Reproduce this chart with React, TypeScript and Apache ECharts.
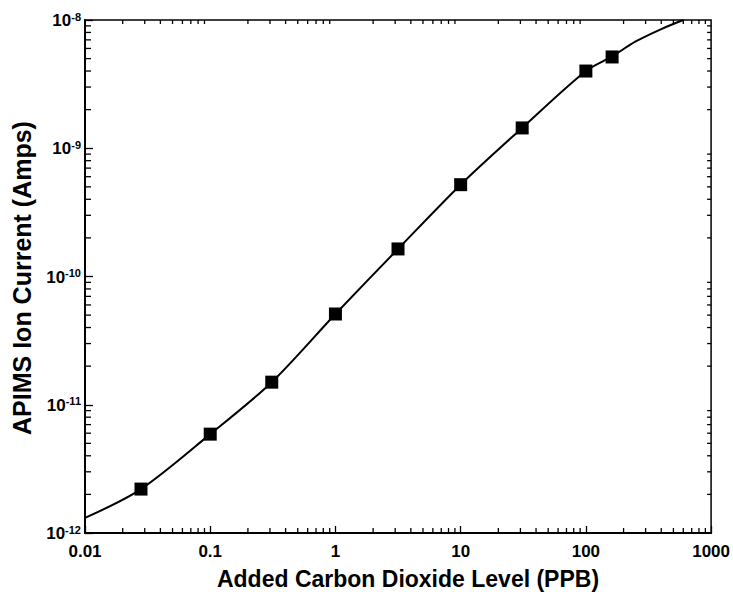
import React, { useEffect, useRef } from 'react';
import * as echarts from 'echarts';

// Measured data (markers)
const co2Levels = [0.028, 0.1, 0.31, 1.0, 3.16, 10, 31, 100, 162];
const ionCurrent = [2.2e-12, 5.9e-12, 1.5e-11, 5.1e-11, 1.64e-10, 5.2e-10, 1.44e-9, 4.0e-9, 5.15e-9];

// Fitted curve
const fitLevels = [0.01, 0.028, 0.1, 0.31, 1, 3.16, 10, 31, 100, 162, 250, 400, 600];
const fitCurrent = [1.31e-12, 2.2e-12, 5.9e-12, 1.5e-11, 5.1e-11, 1.64e-10, 5.2e-10, 1.44e-9, 4.0e-9, 5.2e-9, 6.8e-9, 8.5e-9, 1.0e-8];

// Axis ticks
const xDecades = [0.01, 0.1, 1, 10, 100, 1000];
const xTickLabels = ['0.01', '0.1', '1', '10', '100', '1000'];
const yDecades = [1e-12, 1e-11, 1e-10, 1e-9, 1e-8];
const yTickExponents = ['-12', '-11', '-10', '-9', '-8'];
const minorMultipliers = [2, 3, 4, 5, 6, 7, 8, 9];

const xTitle = 'Added Carbon Dioxide Level (PPB)';
const yTitle = 'APIMS Ion Current (Amps)';

const X_MIN = 0.01, X_MAX = 1000, Y_MIN = 1e-12, Y_MAX = 1e-8;

const xMinor: number[] = [];
xDecades.slice(0, -1).forEach((d) => minorMultipliers.forEach((m) => xMinor.push(d * m)));
const yMinor: number[] = [];
yDecades.slice(0, -1).forEach((d) => minorMultipliers.forEach((m) => yMinor.push(d * m)));

const decadeIndex = (v: number, arr: number[]) => {
  const lv = Math.log10(v);
  let best = 0;
  arr.forEach((d, i) => {
    if (Math.abs(Math.log10(d) - lv) < Math.abs(Math.log10(arr[best]) - lv)) best = i;
  });
  return best;
};

const tickStyle = { stroke: '#000', lineWidth: 1.3 };
const narrow = 'Liberation Sans Narrow, Liberation Sans, Arial';
const sans = 'Liberation Sans, Arial, Helvetica';

export default function App() {
  const ref = useRef<HTMLDivElement>(null);
  useEffect(() => {
    const chart = echarts.init(ref.current!, null, { renderer: 'svg' });
    const option: any = {
      animation: false,
      backgroundColor: '#fff',
      grid: {
        left: 85, right: 16, top: 20, bottom: 62,
        show: true, borderColor: '#000', borderWidth: 1.5, backgroundColor: 'transparent',
      },
      graphic: [
        {
          type: 'text', x: 408, y: 579,
          style: { text: xTitle, fill: '#000', font: `bold 23px ${sans}`, align: 'center', verticalAlign: 'middle' },
        },
        {
          type: 'text', x: 22, y: 278, rotation: Math.PI / 2,
          style: { text: yTitle, fill: '#000', font: `bold 25px ${sans}`, align: 'center', verticalAlign: 'middle' },
        },
      ],
      xAxis: {
        type: 'log', logBase: 10, min: X_MIN, max: X_MAX,
        axisLine: { show: true, lineStyle: { color: '#000', width: 2 } },
        axisTick: { show: true, inside: true, length: 7, lineStyle: { color: '#000', width: 1.3 } },
        splitLine: { show: false },
        axisLabel: {
          margin: 10,
          color: '#000',
          fontFamily: narrow,
          fontWeight: 'bold',
          fontSize: 17,
          formatter: (v: number) => xTickLabels[decadeIndex(v, xDecades)],
        },
      },
      yAxis: {
        type: 'log', logBase: 10, min: Y_MIN, max: Y_MAX,
        axisLine: { show: true, lineStyle: { color: '#000', width: 2 } },
        axisTick: { show: true, inside: true, length: 8, lineStyle: { color: '#000', width: 1.3 } },
        splitLine: { show: false },
        axisLabel: {
          margin: 4,
          color: '#000',
          formatter: (v: number) => `{b|10}{s|${yTickExponents[decadeIndex(v, yDecades)]}}`,
          rich: {
            b: { fontFamily: narrow, fontWeight: 'bold', fontSize: 17, color: '#000', lineHeight: 18, verticalAlign: 'bottom' },
            s: { fontFamily: narrow, fontWeight: 'bold', fontSize: 11, color: '#000', lineHeight: 18, verticalAlign: 'top' },
          },
        },
      },
      series: [
        {
          type: 'custom',
          silent: true,
          clip: false,
          z: 5,
          data: xMinor.map((v) => [v, Y_MIN]),
          renderItem: (params: any, api: any) => {
            const v = api.value(0);
            const p = api.coord([v, Y_MIN]);
            const q = api.coord([v, Y_MAX]);
            return {
              type: 'group',
              children: [
                { type: 'line', shape: { x1: p[0], y1: p[1], x2: p[0], y2: p[1] - 5 }, style: tickStyle },
                { type: 'line', shape: { x1: q[0], y1: q[1], x2: q[0], y2: q[1] + 4 }, style: tickStyle },
              ],
            };
          },
        },
        {
          type: 'custom',
          silent: true,
          clip: false,
          z: 5,
          data: yMinor.map((v) => [X_MIN, v]),
          renderItem: (params: any, api: any) => {
            const v = api.value(1);
            const p = api.coord([X_MIN, v]);
            const q = api.coord([X_MAX, v]);
            return {
              type: 'group',
              children: [
                { type: 'line', shape: { x1: p[0], y1: p[1], x2: p[0] + 6, y2: p[1] }, style: tickStyle },
                { type: 'line', shape: { x1: q[0], y1: q[1], x2: q[0] - 4, y2: q[1] }, style: tickStyle },
              ],
            };
          },
        },
        {
          type: 'line',
          data: fitLevels.map((x, i) => [x, fitCurrent[i]]),
          smooth: 0.3,
          symbol: 'none',
          clip: true,
          lineStyle: { color: '#000', width: 2 },
          z: 3,
        },
        {
          type: 'scatter',
          data: co2Levels.map((x, i) => [x, ionCurrent[i]]),
          symbol: 'rect',
          symbolSize: 13,
          itemStyle: { color: '#000', opacity: 1 },
          z: 4,
        },
      ],
    };
    chart.setOption(option);
    return () => chart.dispose();
  }, []);
  return <div ref={ref} style={{ position: 'fixed', left: 0, top: 0, width: 733, height: 595 }} />;
}
